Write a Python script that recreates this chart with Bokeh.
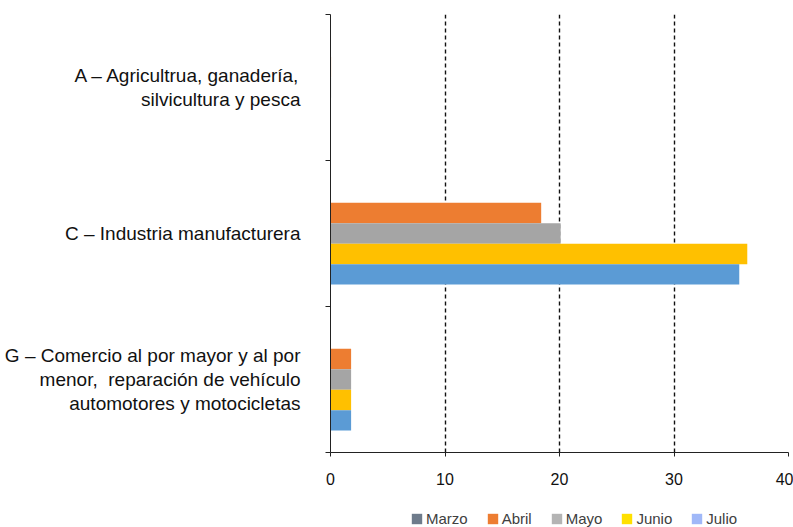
from bokeh.plotting import figure
from bokeh.layouts import column
from bokeh.models import (ColumnDataSource, Range1d, FixedTicker, Legend, LegendItem)
from bokeh.transform import dodge
from bokeh.embed import file_html
from bokeh.resources import INLINE

# ---- data ----
categories = [
    "A – Agricultrua, ganadería,\nsilvicultura y pesca",
    "C – Industria manufacturera",
    "G – Comercio al por mayor y al por\nmenor,\u00a0 reparación de vehículo\nautomotores y motocicletas",
]
series_names = ["Marzo", "Abril", "Mayo", "Junio", "Julio"]
marzo = [0.0, 0.0, 0.0]
abril = [0.05, 18.4, 1.8]
mayo = [0.05, 20.1, 1.8]
junio = [0.0, 36.4, 1.8]
julio = [0.0, 35.7, 1.8]
x_ticks = [0, 10, 20, 30, 40]

bar_colors = ["#44546A", "#ED7D31", "#A5A5A5", "#FFC000", "#5B9BD5"]
legend_colors = ["#6E7B8B", "#ED7D31", "#B4B4B4", "#FFE000", "#A0B8F8"]

n = len(categories)
ypos = [n - i - 0.5 for i in range(n)]  # first category at top
src = ColumnDataSource(dict(y=ypos, Marzo=marzo, Abril=abril, Mayo=mayo,
                            Junio=junio, Julio=julio))

p = figure(width=793, height=500, output_backend="svg", toolbar_location=None,
           x_range=Range1d(0, 40), y_range=Range1d(0, n),
           min_border_left=330, min_border_right=5, min_border_top=14,
           min_border_bottom=48)
p.outline_line_color = None
p.background_fill_color = "white"
p.border_fill_color = "white"

bh = 0.14
offsets = [2 * bh, bh, 0.0, -bh, -2 * bh]
for name, col, off in zip(series_names, bar_colors, offsets):
    p.hbar(y=dodge("y", off, range=p.y_range), right=name, left=0, height=bh,
           source=src, fill_color=col, line_color=None)

# x axis
xa = p.xaxis[0]
xa.ticker = FixedTicker(ticks=x_ticks)
xa.axis_line_color = "#222222"
xa.major_tick_out = 4
xa.major_tick_in = 0
xa.major_tick_line_color = "#222222"
xa.minor_tick_line_color = None
xa.major_label_standoff = 16
xa.major_label_text_font = "Liberation Sans"
xa.major_label_text_font_size = "16px"
xa.major_label_text_color = "#111111"

# y axis
ya = p.yaxis[0]
ya.ticker = FixedTicker(ticks=ypos, minor_ticks=list(range(n + 1)))
ya.major_label_overrides = {y: c for y, c in zip(ypos, categories)}
ya.axis_line_color = "#222222"
ya.major_tick_out = 0
ya.major_tick_in = 0
ya.minor_tick_out = 5
ya.minor_tick_in = 0
ya.minor_tick_line_color = "#222222"
ya.major_label_standoff = 25
ya.major_label_text_font = "Liberation Sans"
ya.major_label_text_font_size = "19px"
ya.major_label_text_color = "#111111"
ya.major_label_text_line_height = 1.15

p.xgrid.grid_line_color = "#111111"
p.xgrid.grid_line_dash = "4 3"
p.xgrid.grid_line_width = 1.4
p.ygrid.grid_line_color = None

# legend strip (separate small figure below the chart)
lg = figure(width=793, height=27, output_backend="svg", toolbar_location=None,
            x_range=Range1d(0, 1), y_range=Range1d(0, 1),
            x_axis_location=None, y_axis_location=None,
            min_border_left=0, min_border_right=0, min_border_top=0,
            min_border_bottom=0)
lg.outline_line_color = None
lg.xgrid.grid_line_color = None
lg.ygrid.grid_line_color = None
items = []
for name, col in zip(series_names, legend_colors):
    r = lg.hbar(y="y", right=name, left=0, height=bh, source=src,
                fill_color=col, line_color=None, visible=False)
    items.append(LegendItem(label=name, renderers=[r]))
legend = Legend(items=items, orientation="horizontal", location=(80, 0),
                glyph_width=13, glyph_height=13, label_standoff=3, spacing=18,
                label_height=16,
                padding=0, margin=0, border_line_color=None,
                background_fill_alpha=0, inactive_fill_alpha=0,
                label_text_font="Liberation Sans", label_text_font_size="15px",
                label_text_color="#404040")
lg.add_layout(legend, "center")

layout = column(p, lg, spacing=0)
open("out.html", "w").write(file_html(layout, INLINE))
